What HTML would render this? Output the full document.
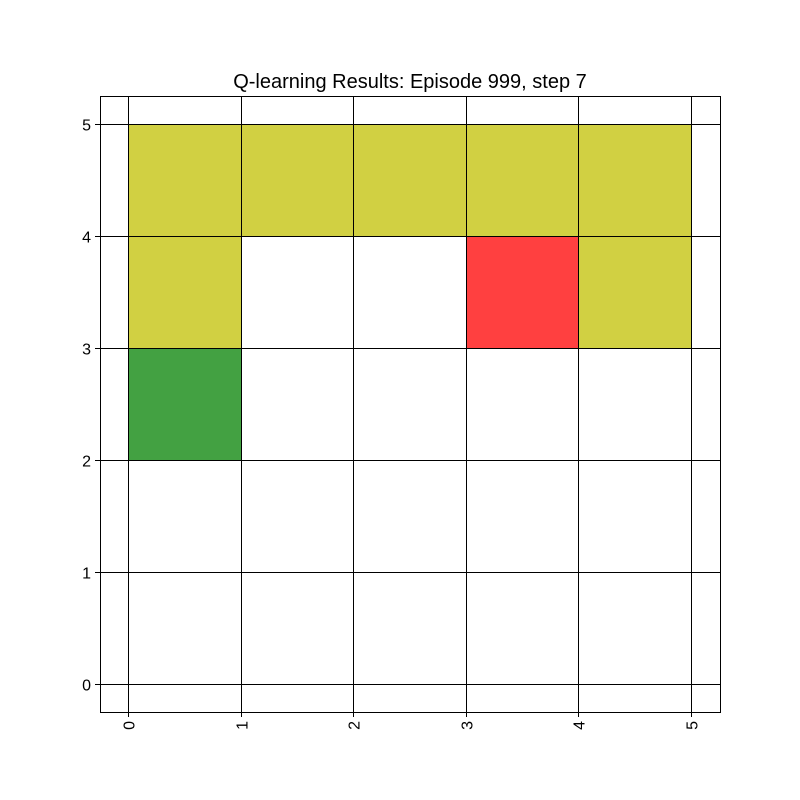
<!DOCTYPE html>
<html>
<head>
<meta charset="utf-8">
<style>
  html,body{margin:0;padding:0;background:#fff;}
  svg{display:block;font-family:"Liberation Sans","DejaVu Sans",sans-serif;}
</style>
</head>
<body>
<svg id="chart" width="800" height="800" viewBox="0 0 800 800">
  <rect x="0" y="0" width="800" height="800" fill="#fff"/>
  <text x="410" y="88" text-anchor="middle" font-size="20" fill="#000">Q-learning Results: Episode 999, step 7</text>
  <g id="cells"></g>
  <g id="grid"></g>
  <g id="ticks"></g>
  <rect x="100.5" y="96.5" width="620" height="616" fill="none" stroke="#000" stroke-width="1"/>
</svg>
<script>
const xTicks = [0, 1, 2, 3, 4, 5];
const yTicks = [0, 1, 2, 3, 4, 5];
const cellX = [0, 1, 2, 3, 4, 0, 4, 3, 0];
const cellY = [4, 4, 4, 4, 4, 3, 3, 3, 2];
const cellKind = ["path","path","path","path","path","path","path","goal","start"];
const kindColor = {path:"#d1d042", goal:"#ff4040", start:"#43a142"};

const sx = v => Math.round(128 + v * 112.6) + 0.5;
const sy = v => Math.round(684 - v * 112) + 0.5;
const NS = "http://www.w3.org/2000/svg";
const mk = (tag, attrs) => { const e = document.createElementNS(NS, tag); for (const k in attrs) e.setAttribute(k, attrs[k]); return e; };

const cells = document.getElementById('cells');
for (let i = 0; i < cellX.length; i++) {
  const r = mk('rect', {x: sx(cellX[i]), y: sy(cellY[i] + 1), width: sx(cellX[i] + 1) - sx(cellX[i]), height: sy(cellY[i]) - sy(cellY[i] + 1), fill: kindColor[cellKind[i]]});
  
  
  cells.appendChild(r);
}

const grid = document.getElementById('grid');
const ticks = document.getElementById('ticks');
xTicks.forEach(t => {
  const l = mk('line', {x1: sx(t), x2: sx(t), y1: 96, y2: 712, stroke: '#000', 'stroke-width': 1});
  
  
  grid.appendChild(l);
  const tk = mk('line', {x1: sx(t), x2: sx(t), y1: 712, y2: 717, stroke: '#000', 'stroke-width': 1});
  
  
  ticks.appendChild(tk);
  const tx = mk('text', {x: 0, y: 0, 'font-size': 16, 'text-anchor': 'end', transform: 'translate(' + (sx(t) + 6) + ',721) rotate(-90)'});
  tx.textContent = t;
  
  
  ticks.appendChild(tx);
});
yTicks.forEach(t => {
  const l = mk('line', {x1: 100, x2: 720, y1: sy(t), y2: sy(t), stroke: '#000', 'stroke-width': 1});
  
  
  grid.appendChild(l);
  const tk = mk('line', {x1: 95, x2: 100, y1: sy(t), y2: sy(t), stroke: '#000', 'stroke-width': 1});
  
  
  ticks.appendChild(tk);
  const tx = mk('text', {x: 91, y: sy(t) + 6, 'font-size': 16, 'text-anchor': 'end'});
  tx.textContent = t;
  
  
  ticks.appendChild(tx);
});
</script>
</body>
</html>
